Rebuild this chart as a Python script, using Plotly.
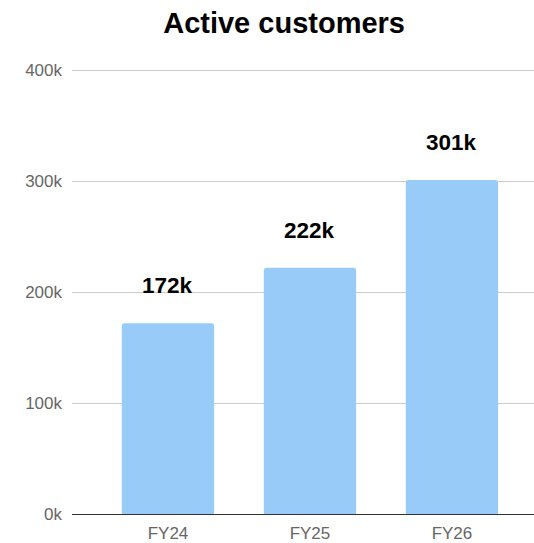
import plotly.graph_objects as go

categories = ["FY24", "FY25", "FY26"]
values = [172, 222, 301]  # thousands
labels = ["172k", "222k", "301k"]
y_ticks = [0, 100, 200, 300, 400]
y_tick_text = ["0k", "100k", "200k", "300k", "400k"]

FONT = "Arial, Liberation Sans, sans-serif"

fig = go.Figure()
fig.add_trace(go.Bar(
    x=categories, y=values,
    marker=dict(color="#99cbf9", cornerradius=3, line=dict(width=0)),
    width=0.65,
    hoverinfo="skip",
))

for c, v, t in zip(categories, values, labels):
    fig.add_annotation(x=c, y=v, text="<b>%s</b>" % t, showarrow=False,
                       yanchor="bottom", yshift=23,
                       font=dict(size=22.5, color="#000000", family=FONT))

fig.update_layout(
    width=534, height=543,
    margin=dict(l=72, r=0, t=69, b=27),
    paper_bgcolor="white", plot_bgcolor="white",
    showlegend=False,
    title=dict(text="<b>Active customers</b>", x=0.532, xanchor="center", y=0.958, yanchor="middle",
               font=dict(size=29, color="#000000", family=FONT)),
    font=dict(family=FONT),
)
fig.update_xaxes(
    range=[-0.676, 2.578],
    showline=True, linecolor="#333333", linewidth=1,
    showgrid=False, ticks="",
    ticklabelstandoff=4,
    tickfont=dict(size=17, color="#666666"),
)
fig.update_yaxes(
    range=[0, 401],
    tickvals=y_ticks, ticktext=y_tick_text,
    showgrid=True, gridcolor="#cccccc", gridwidth=1,
    zeroline=False, showline=False, ticks="",
    ticklabelstandoff=9,
    tickfont=dict(size=17, color="#666666"),
)

fig.write_html("out.html")
